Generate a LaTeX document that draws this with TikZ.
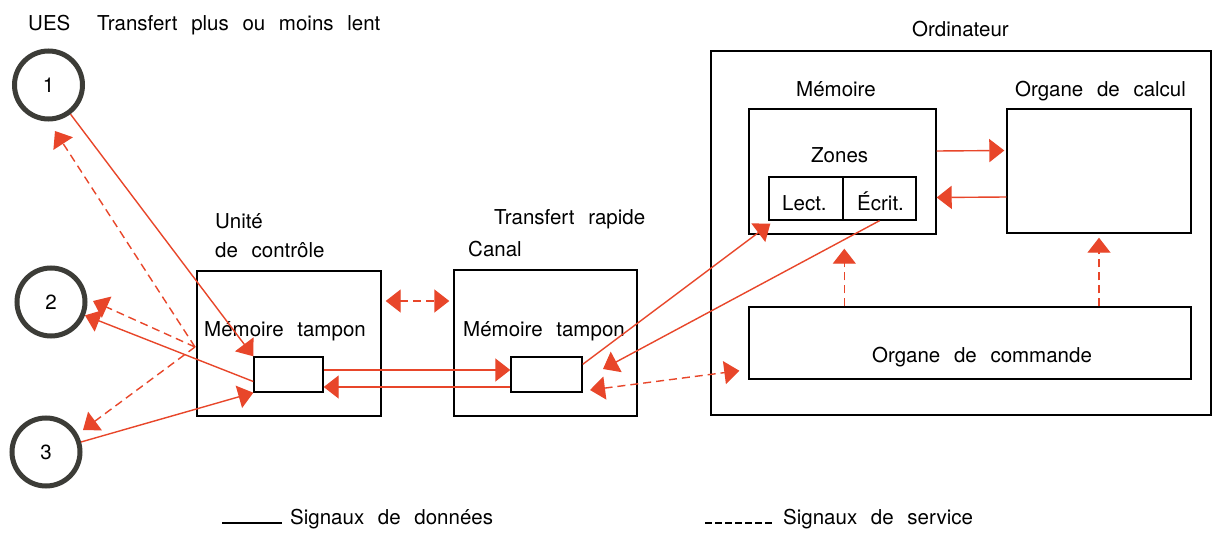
\documentclass[tikz,border=0pt]{standalone}
\usepackage{fontspec}
\setmainfont{TeX Gyre Heros}[WordSpace=2.4]
\usetikzlibrary{arrows.meta,calc}
\definecolor{sigred}{RGB}{232,70,42}
\definecolor{ringgray}{RGB}{60,60,55}
\tikzset{
  lbl/.style={inner sep=0pt,anchor=base west,font=\fontsize{20.5}{24}\selectfont},
  boxnode/.style={draw=black,line width=1.4pt,inner sep=0pt},
  ring/.style={circle,draw=ringgray,line width=5pt,minimum size=68pt,inner sep=0pt,font=\fontsize{20.5}{24}\selectfont},
  headone/.style={-{Triangle[length=15pt,width=23pt]}},
  headtwo/.style={{Triangle[length=15pt,width=23pt]}-{Triangle[length=15pt,width=23pt]}},
  data/.style={draw=sigred,line width=1.4pt},
  ctrl/.style={draw=sigred,line width=1.4pt,dash pattern=on 8pt off 5pt},
}
\begin{document}
\begin{tikzpicture}[x=1pt,y=-1pt]
\useasboundingbox (0,0) rectangle (1215,540);
\fill[white] (0,0) rectangle (1215,540);

% titles
\node[lbl] (ues) at (28,31) {UES};
\node[lbl] (tlent) at (97,31) {Transfert plus ou moins lent};
\node[lbl] (tordi) at (912,37) {Ordinateur};
\node[lbl] (tunite) at (215,229) {Unité};
\node[lbl] (tctrl) at (215,257) {de contrôle};
\node[lbl] (trapide) at (494,225) {Transfert rapide};
\node[lbl] (tcanal) at (468,256) {Canal};

% UES circles
\node[ring] (c1) at (48.5,85) {1};
\node[ring] (c2) at (51,302) {2};
\node[ring] (c3) at (46,452) {3};

% control unit and channel
\node[boxnode,minimum width=184pt,minimum height=145pt] (box1) at (289,343.5) {};
\node[lbl] (tmt1) at (204,336) {Mémoire tampon};
\node[boxnode,minimum width=69pt,minimum height=35pt] (rect1) at (288.5,374.5) {};
\node[boxnode,minimum width=183pt,minimum height=146pt] (canal) at (545.5,343) {};
\node[lbl] (tmt2) at (463,336) {Mémoire tampon};
\node[boxnode,minimum width=71pt,minimum height=35pt] (rect2) at (546.5,374.5) {};

% computer
\node[boxnode,minimum width=500pt,minimum height=364pt] (ordi) at (961,233) {};
\node[boxnode,minimum width=187pt,minimum height=125pt] (mem) at (842.5,171.5) {};
\node[lbl] (tmem) at (796,97) {Mémoire};
\node[lbl] (tzones) at (811,163) {Zones};
\node[boxnode,minimum width=74pt,minimum height=43pt] (lect) at (806,198.5) {};
\node[boxnode,minimum width=73pt,minimum height=43pt] (ecrit) at (879.5,198.5) {};
\node[lbl] (tlect) at (782,211) {Lect.};
\node[lbl] (tecrit) at (857,211) {Écrit.};
\node[boxnode,minimum width=184pt,minimum height=124pt] (calc) at (1099,171) {};
\node[lbl] (tcalc) at (1015,97) {Organe de calcul};
\node[boxnode,minimum width=442pt,minimum height=72pt] (cmd) at (970,343) {};
\node[lbl] (tcmd) at (872,362) {Organe de commande};

% free ends
\coordinate (j) at (195,347);
\coordinate (t1) at (55,131);
\coordinate (t2) at (93,301);
\coordinate (t3) at (83,430);
\coordinate (t4) at (603,369);
\coordinate (t5) at (590,390);
\coordinate (y301) at (0,301);

% data signals
\draw[data,headone] (c1) -- (rect1.north west);
\draw[data,headone] ($(rect1.west)+(0,7)$) -- (c2);
\draw[data,headone] (c3) -- (rect1.south west);
\draw[data,headone] ($(rect1.east)+(0,-4.5)$) -- ($(rect2.west)+(0,-4.5)$);
\draw[data,headone] ($(rect2.west)+(0,12.5)$) -- ($(rect1.east)+(0,12.5)$);
\draw[data,headone] ($(rect2.north east)+(0,8)$) -- ($(lect.south west)+(2,3)$);
\draw[data,headone] (ecrit.south) -- (t4);
\draw[data,headone] ($(mem.east)+(0,-20.5)$) -- ($(calc.west)+(-2,-20.5)$);
\draw[data,headone] ($(calc.west)+(0,26)$) -- ($(mem.east)+(0,26)$);

% service signals
\draw[ctrl,headone] (j) -- (t1);
\draw[ctrl,headone] (j) -- (t2);
\draw[ctrl,headone] (j) -- (t3);
\draw[ctrl,headtwo,shorten <=4pt,shorten >=4pt] (box1.east |- y301) -- (canal.west |- y301);
\draw[ctrl,headtwo] (t5) -- ($(cmd.south west)+(-9,-9)$);
\draw[ctrl,headone] ($(cmd.north west)+(96,0)$) -- ($(mem.south west)+(96,14)$);
\draw[ctrl,headone,shorten >=4pt] (cmd.north -| calc.south) -- (calc.south);

% legend
\node[lbl] (leg1) at (290,524) {Signaux de données};
\node[lbl] (leg2) at (783,524) {Signaux de service};
\draw[black,line width=1.4pt] ($(leg1.base west)+(-68,-1)$) -- ($(leg1.base west)+(-8,-1)$);
\draw[black,line width=1.4pt,dash pattern=on 7pt off 3pt] ($(leg2.base west)+(-78,-1)$) -- ($(leg2.base west)+(-8,-1)$);
\end{tikzpicture}
\end{document}
